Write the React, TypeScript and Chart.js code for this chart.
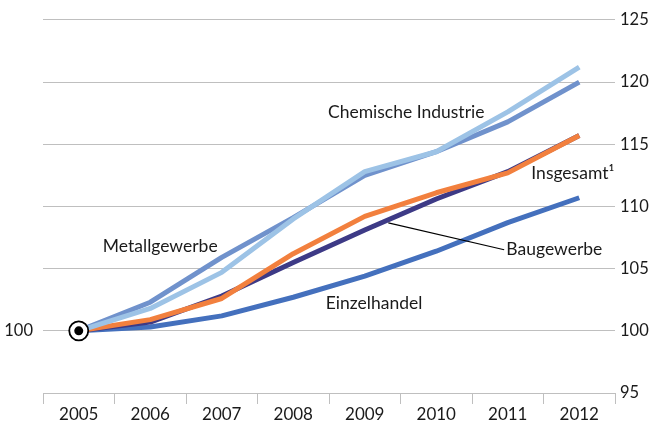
import React, { useEffect, useRef } from "react";
import { Chart, registerables } from "chart.js";

Chart.register(...registerables);

const years = ["2005", "2006", "2007", "2008", "2009", "2010", "2011", "2012"];
const chemischeIndustrie = [100, 101.8, 104.7, 109.0, 112.8, 114.4, 117.6, 121.2];
const metallgewerbe = [100, 102.3, 105.9, 109.1, 112.5, 114.4, 116.8, 120.0];
const insgesamt = [100, 100.9, 102.6, 106.2, 109.2, 111.1, 112.7, 115.7];
const baugewerbe = [100, 100.7, 102.8, 105.5, 108.1, 110.6, 112.8, 115.7];
const einzelhandel = [100, 100.3, 101.2, 102.7, 104.4, 106.4, 108.7, 110.7];
const baseMarker = [100, null, null, null, null, null, null, null];
const rightTicks = [95, 100, 105, 110, 115, 120, 125];
const leftTicks = [100];

// label anchors given in (category index, value) units
const labels = [
  { text: "Chemische Industrie", x: 4.58, y: 117.56, align: "center" },
  { text: "Metallgewerbe", x: 1.14, y: 106.76, align: "center" },
  { text: "Insgesamt\u00B9", x: 6.91, y: 112.68, align: "center" },
  { text: "Baugewerbe", x: 5.98, y: 106.52, align: "left" },
  { text: "Einzelhandel", x: 4.13, y: 102.2, align: "center" },
];
const leader = { x1: 4.33, y1: 108.68, x2: 5.95, y2: 106.52 };

const FONT = "Lato, 'Open Sans', sans-serif";
const FS = 17.5;
const TFS = 16.5;
const TEXT = "#1a1a1a";
const GRID = "#bfbfbf";

const annotationPlugin = {
  id: "annot",
  afterDatasetsDraw(chart: any) {
    const ctx = chart.ctx;
    const xs = chart.scales.x;
    const ys = chart.scales.y;
    ctx.save();
    ctx.strokeStyle = "#000";
    ctx.lineWidth = 1.2;
    ctx.beginPath();
    ctx.moveTo(xs.getPixelForValue(leader.x1), ys.getPixelForValue(leader.y1));
    ctx.lineTo(xs.getPixelForValue(leader.x2), ys.getPixelForValue(leader.y2));
    ctx.stroke();
    ctx.fillStyle = TEXT;
    ctx.font = `${FS}px ${FONT}`;
    ctx.textBaseline = "middle";
    for (const l of labels) {
      ctx.textAlign = l.align;
      ctx.fillText(l.text, xs.getPixelForValue(l.x), ys.getPixelForValue(l.y));
    }
    ctx.restore();
  },
};

export default function App() {
  const ref = useRef<HTMLCanvasElement | null>(null);
  useEffect(() => {
    document.body.style.margin = "0";
    const line = (label: string, data: number[], color: string) => ({
      label,
      data,
      borderColor: color,
      backgroundColor: color,
      borderWidth: 5,
      pointRadius: 0,
      tension: 0,
      borderCapStyle: "butt",
      borderJoinStyle: "round",
      yAxisID: "y",
    });
    const chart = new Chart(ref.current as HTMLCanvasElement, {
      type: "line",
      data: {
        labels: years,
        datasets: [
          {
            label: "dot",
            data: baseMarker,
            showLine: false,
            pointRadius: 4.5,
            pointBackgroundColor: "#000",
            pointBorderWidth: 0,
            yAxisID: "y",
          },
          {
            label: "ring",
            data: baseMarker,
            showLine: false,
            pointRadius: 9.5,
            pointBackgroundColor: "#fff",
            pointBorderColor: "#000",
            pointBorderWidth: 1.8,
            yAxisID: "y",
          },
          line("Chemische Industrie", chemischeIndustrie, "#9dc3e6"),
          line("Metallgewerbe", metallgewerbe, "#7092cc"),
          line("Insgesamt", insgesamt, "#f2803e"),
          line("Baugewerbe", baugewerbe, "#3d3a86"),
          line("Einzelhandel", einzelhandel, "#4470bd"),
        ] as any,
      },
      options: {
        animation: false,
        responsive: false,
        maintainAspectRatio: false,
        layout: { padding: { top: 18, left: 0, right: 0, bottom: 0 } },
        plugins: { legend: { display: false }, tooltip: { enabled: false } },
        scales: {
          x: {
            type: "category",
            offset: true,
            grid: {
              offset: true,
              drawOnChartArea: false,
              drawTicks: true,
              tickLength: 11,
              color: GRID,
            },
            border: { display: true, color: GRID, width: 1 },
            ticks: { color: TEXT, font: { family: FONT, size: 17 }, padding: 0, maxRotation: 0 },
            afterFit: (s: any) => {
              s.height = 28;
            },
          },
          y: {
            position: "right",
            min: 95,
            max: 125,
            afterBuildTicks: (s: any) => {
              s.ticks = rightTicks.map((v) => ({ value: v }));
            },
            grid: { color: GRID, drawTicks: false, lineWidth: 1 },
            border: { display: false },
            ticks: { color: TEXT, font: { family: FONT, size: TFS }, padding: 5 },
            afterFit: (s: any) => {
              s.width = 35;
            },
          },
          yLeft: {
            position: "left",
            min: 95,
            max: 125,
            afterBuildTicks: (s: any) => {
              s.ticks = leftTicks.map((v) => ({ value: v }));
            },
            grid: { display: false, drawTicks: false },
            border: { display: false },
            ticks: { color: TEXT, font: { family: FONT, size: TFS }, padding: 10 },
            afterFit: (s: any) => {
              s.width = 43;
            },
          },
        },
      } as any,
      plugins: [annotationPlugin],
    });
    return () => chart.destroy();
  }, []);
  return <canvas ref={ref} width={650} height={421} style={{ display: "block" }} />;
}
